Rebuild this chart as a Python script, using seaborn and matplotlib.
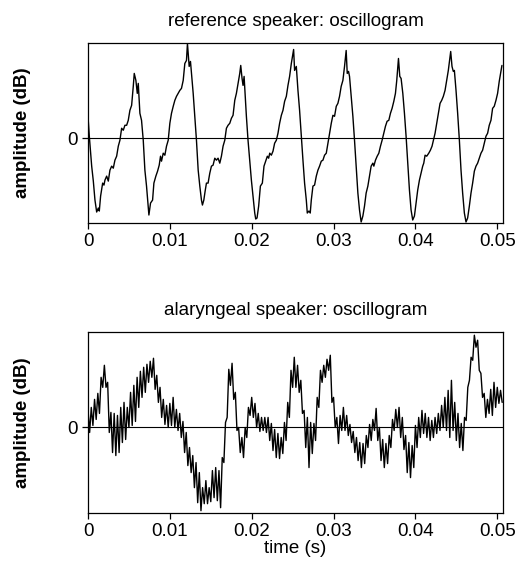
import numpy as np
import pandas as pd
import matplotlib
matplotlib.use("Agg")
import matplotlib.pyplot as plt
import seaborn as sns

# ---------------- data ----------------
titles = ["reference speaker: oscillogram", "alaryngeal speaker: oscillogram"]
x_ticks = [0, 0.01, 0.02, 0.03, 0.04, 0.05]
x_tick_labels = ["0", "0.01", "0.02", "0.03", "0.04", "0.05"]
y_ticks = [0]
y_tick_labels = ["0"]

# reference speaker: time (ms) and amplitude (arbitrary units)
ref_t_ms = [0.00,0.16,0.45,0.65,0.85,1.06,1.26,1.38,1.54,1.79,1.95,2.07,2.28,2.48,2.68,2.89,3.09,3.29,3.50,3.70,
            3.90,4.11,4.31,4.51,4.72,4.92,5.12,5.33,5.53,5.65,5.85,6.02,6.14,6.34,6.54,6.75,6.95,7.15,7.44,7.64,
            7.89,8.05,8.29,8.50,8.70,8.86,8.98,9.19,9.39,9.59,9.80,10.00,10.20,10.41,10.61,10.81,11.02,11.22,11.42,11.63,
            11.83,12.03,12.15,12.36,12.52,12.68,12.85,13.05,13.25,13.46,13.66,13.86,13.98,14.15,14.31,14.47,14.67,14.88,15.08,15.28,
            15.49,15.69,15.89,16.10,16.30,16.50,16.71,16.91,17.11,17.32,17.52,17.72,17.93,18.13,18.33,18.54,18.66,18.82,18.94,19.07,
            19.23,19.35,19.55,19.76,19.96,20.16,20.37,20.49,20.65,20.85,21.06,21.30,21.50,21.71,21.91,22.07,22.20,22.40,22.60,22.80,
            23.01,23.21,23.41,23.62,23.82,24.02,24.23,24.43,24.63,24.84,
            25.12,25.24,25.45,25.53,25.65,25.85,26.06,26.26,26.46,26.67,26.79,26.99,27.15,27.28,27.48,27.68,27.89,28.09,28.29,28.50,
            28.70,28.90,29.11,29.31,29.51,29.72,29.92,30.12,30.33,30.53,30.73,30.93,31.14,31.34,31.54,31.67,31.83,31.95,32.15,32.36,
            32.56,32.76,32.97,33.17,33.37,33.58,33.78,33.98,34.19,34.39,34.59,34.80,34.92,35.12,35.33,35.53,35.73,35.93,36.14,36.34,
            36.54,36.75,36.95,37.15,37.36,37.56,37.72,37.93,38.09,38.25,38.46,38.66,38.86,39.07,39.27,39.47,39.67,39.88,40.08,40.28,
            40.49,40.69,40.89,41.02,41.18,41.38,41.63,41.83,42.03,42.20,42.40,42.60,42.80,43.01,43.21,43.41,43.62,43.82,44.02,44.31,
            44.47,44.63,44.76,44.96,45.16,45.37,45.57,45.77,45.98,46.18,46.38,46.59,46.79,46.99,47.20,47.40,47.60,47.80,48.01,48.21,
            48.41,48.62,48.82,49.02,49.23,49.43,49.63,49.84,50.04,50.24,50.57]
ref_amp = [22,2,-28,-43,-62,-74,-70,-73,-58,-45,-47,-42,-38,-43,-32,-28,-30,-22,-18,-8,
           -2,10,8,13,13,18,28,33,52,65,58,45,55,25,18,-2,-32,-48,-77,-65,
           -62,-45,-38,-33,-27,-18,-23,-15,-17,-8,-2,15,25,32,38,42,45,48,50,58,
           75,78,95,72,77,62,45,22,-2,-32,-48,-62,-67,-62,-53,-45,-45,-35,-28,-27,
           -20,-22,-20,-25,-18,-8,-2,10,13,15,20,23,38,45,55,65,73,60,53,62,
           40,22,-2,-22,-42,-58,-75,-81,-80,-68,-48,-45,-28,-23,-18,-20,-15,-17,-13,-5,
           -2,5,15,23,28,37,42,53,62,75,
           89,68,72,62,48,28,2,-22,-45,-62,-75,-73,-75,-62,-48,-47,-38,-32,-28,-23,
           -22,-17,-15,-5,5,15,23,22,32,35,42,52,58,72,88,65,67,62,42,22,
           -2,-28,-55,-72,-84,-78,-68,-55,-48,-38,-28,-25,-28,-22,-18,-15,-8,-2,5,12,
           17,18,25,30,37,45,58,80,62,60,45,25,2,-25,-52,-72,-82,-78,-65,-52,
           -42,-35,-28,-25,-17,-18,-15,-12,-8,-2,5,15,25,35,38,42,48,58,68,87,
           72,67,68,48,25,-2,-32,-55,-75,-84,-80,-68,-55,-45,-33,-28,-25,-20,-15,-12,
           -5,2,5,13,18,30,32,38,45,57,73]

# alaryngeal speaker: amplitude samples every 0.2 ms (arbitrary units)
alar_step_ms = 0.2
alar_amp = [18,-5,20,2,28,8,34,14,50,40,
            62,40,45,-5,15,-25,14,-28,12,-25,
            20,-15,25,-12,20,0,35,2,42,6,
            50,20,56,30,60,35,63,45,66,50,
            69,38,52,25,40,10,28,3,22,0,
            24,2,30,0,18,-3,14,-10,6,-25,
            -5,-38,-20,-45,-28,-60,-35,-75,-45,-83,
            -60,-76,-53,-76,-60,-74,-43,-70,-40,-73,
            -43,-80,-30,-35,5,10,58,42,64,28,
            35,-3,0,-25,-10,-30,0,-10,20,12,
            30,10,24,0,14,-4,10,-3,10,-5,
            10,-13,4,-23,-2,-30,-6,-31,-10,-26,
            5,-13,25,10,57,40,70,40,62,35,
            47,14,17,-20,10,-40,5,-26,4,-13,
            30,20,57,45,62,50,68,57,72,25,
            30,0,10,-16,12,-3,20,-3,12,-8,
            3,-15,-4,-25,-10,-33,-15,-40,-16,-36,
            -8,-20,3,-13,8,-3,19,-13,0,-33,
            -12,-40,-16,-36,-8,-20,8,-3,18,0,
            20,-10,10,-22,-8,-45,-15,-50,-18,-40,
            2,-20,10,-10,17,-6,14,-10,10,-13,
            7,-10,10,-6,14,-3,22,0,30,-3,
            37,-10,47,-3,25,-13,14,-20,4,-23,
            10,7,40,47,70,67,92,80,87,57,
            54,30,34,10,28,14,38,12,45,20,
            40,24,37,25]

# ---------------- build tables ----------------
n_ref = min(len(ref_t_ms), len(ref_amp))
ref_df = pd.DataFrame({"time": np.array(ref_t_ms[:n_ref]) / 1000.0,
                       "amp": ref_amp[:n_ref]})
alar_df = pd.DataFrame({"time": np.arange(len(alar_amp)) * alar_step_ms / 1000.0,
                        "amp": alar_amp})

# ---------------- style ----------------
sns.set_theme(style="ticks")
plt.rcParams["font.family"] = ["Liberation Sans", "DejaVu Sans"]
plt.rcParams["font.size"] = 13.5
plt.rcParams["axes.linewidth"] = 0.9
plt.rcParams["axes.edgecolor"] = "black"
plt.rcParams["axes.labelcolor"] = "black"
plt.rcParams["axes.titlecolor"] = "black"
plt.rcParams["text.color"] = "black"
plt.rcParams["xtick.color"] = "black"
plt.rcParams["ytick.color"] = "black"

W, H = 518, 561
fig = plt.figure(figsize=(W / 100, H / 100), dpi=100)

def px_axes(left, top, right, bottom):
    return fig.add_axes([left / W, 1 - bottom / H, (right - left) / W, (bottom - top) / H])

ax1 = px_axes(88, 43, 503, 223)
ax2 = px_axes(88, 331.7, 503, 512.7)

for ax, df, title in [(ax1, ref_df, titles[0]), (ax2, alar_df, titles[1])]:
    sns.lineplot(data=df, x="time", y="amp", ax=ax, color="black",
                 linewidth=1.0, sort=False, estimator=None)
    ax.axhline(0, color="black", linewidth=0.8)
    ax.set_xlim(0, 0.0507)
    ax.set_ylim(-85, 95.5)
    ax.set_xticks(x_ticks)
    ax.set_xticklabels(x_tick_labels, fontsize=13.5, color="black")
    ax.set_yticks(y_ticks)
    ax.set_yticklabels(y_tick_labels, fontsize=13.5, color="black")
    ax.tick_params(direction="out", length=4, width=0.9, pad=3.5)
    ax.set_title(title, fontsize=13.5, pad=12, color="black")
    ax.set_ylabel("amplitude (dB)", fontsize=13.5, fontweight="bold", color="black")
    ax.yaxis.set_label_coords(-0.138, 0.5)
    ax.set_xlabel("")
    for s in ax.spines.values():
        s.set_visible(True)
        s.set_color("black")
        s.set_linewidth(0.9)

ax2.set_xlabel("time (s)", fontsize=13.5, labelpad=0, color="black")

fig.savefig("out.png", dpi=100)
